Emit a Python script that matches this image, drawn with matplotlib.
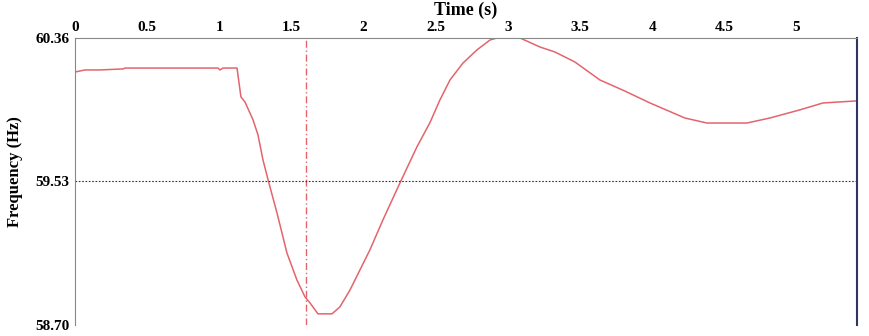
import matplotlib.pyplot as plt

# Frequency response
time_s = [0.0, 0.069, 0.173, 0.333, 0.347, 0.991, 1.005, 1.026, 1.123, 1.150,
          1.178, 1.234, 1.268, 1.303, 1.344, 1.400, 1.469, 1.538, 1.594, 1.629,
          1.684, 1.781, 1.836, 1.906, 1.975, 2.044, 2.134, 2.252, 2.370, 2.460,
          2.529, 2.599, 2.689, 2.786, 2.876, 2.924, 3.084, 3.222, 3.326, 3.465,
          3.638, 3.811, 3.985, 4.227, 4.380, 4.657, 4.816, 5.024, 5.184, 5.419]
freq_hz = [60.163, 60.175, 60.175, 60.181, 60.186, 60.186, 60.175, 60.186, 60.186, 60.019,
           59.990, 59.886, 59.800, 59.654, 59.521, 59.348, 59.116, 58.960, 58.862, 58.827,
           58.764, 58.764, 58.804, 58.902, 59.018, 59.134, 59.307, 59.521, 59.730, 59.870,
           60.001, 60.117, 60.215, 60.291, 60.348, 60.360, 60.360, 60.308, 60.279, 60.221,
           60.117, 60.053, 59.984, 59.897, 59.868, 59.868, 59.897, 59.944, 59.984, 59.996]

x_ticks = [0, 0.5, 1, 1.5, 2, 2.5, 3, 3.5, 4, 4.5, 5]
x_tick_labels = ["0", "0.5", "1", "1.5", "2", "2.5", "3", "3.5", "4", "4.5", "5"]
y_ticks = [58.70, 59.53, 60.36]
y_tick_labels = ["58.70", "59.53", "60.36"]
event_time = 1.6
threshold = 59.53

plt.rcParams['font.family'] = ['Liberation Serif', 'DejaVu Serif']
plt.rcParams['font.weight'] = 'bold'

fig = plt.figure(figsize=(8.69, 3.36), dpi=100)
ax = fig.add_axes([0.0863, 0.033, 0.8999, 0.854])

ax.plot(time_s, freq_hz, color='#e4646c', lw=1.1)
ax.axvline(event_time, color='#e4646c', lw=1.0, ls=(0, (5, 2, 1, 2)))
ax.axhline(threshold, color='#333333', lw=0.8, ls=(0, (1.5, 1.5)))

ax.set_xlim(0, 5.42)
ax.set_ylim(58.70, 60.36)

ax.xaxis.tick_top()
ax.xaxis.set_label_position('top')
ax.set_xticks(x_ticks)
ax.set_xticklabels(x_tick_labels, fontsize=11, fontweight='bold')
ax.set_yticks(y_ticks)
ax.set_yticklabels(y_tick_labels, fontsize=11, fontweight='bold')
ax.tick_params(axis='both', length=0)
ax.tick_params(axis='x', pad=3)
ax.tick_params(axis='y', pad=4)

ax.set_xlabel("Time (s)", fontsize=13, fontweight='bold', labelpad=4)
ax.set_ylabel("Frequency (Hz)", fontsize=12, fontweight='bold')
ax.yaxis.set_label_coords(-0.066, 0.533)

ax.spines['bottom'].set_visible(False)
ax.spines['top'].set_color('#888888')
ax.spines['left'].set_color('#888888')
ax.spines['right'].set_color('#2e3560')
ax.spines['right'].set_linewidth(1.5)

fig.savefig('out.png', dpi=100)
